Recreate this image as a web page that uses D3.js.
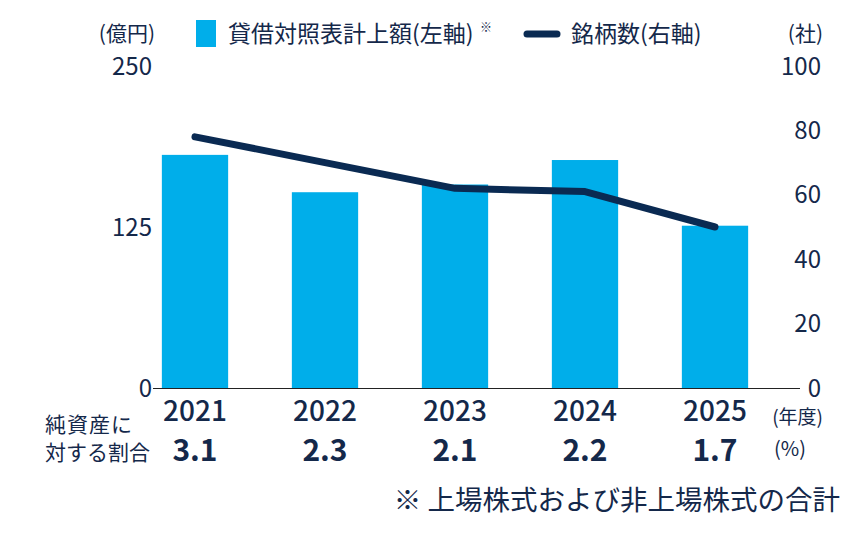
<!DOCTYPE html>
<html lang="ja">
<head>
<meta charset="utf-8">
<script src="https://cdn.jsdelivr.net/npm/d3@7"></script>
<style>
  html,body{margin:0;padding:0;background:#fff;}
  svg{display:block;font-family:"Noto Sans CJK JP","Noto Sans",sans-serif;}
  .ink{fill:#14284a;}
</style>
</head>
<body>
<div id="chart"></div>
<script>
/* Holdings chart: bars = balance sheet amount (left axis, 億円),
   line = number of issuers (right axis, 社). */
var years=["2021","2022","2023","2024","2025"];
var amounts=[181,152,158,177,126];     // 貸借対照表計上額（億円）
var counts=[78,70,62,61,50];           // 銘柄数（社）
var ratios=["3.1","2.3","2.1","2.2","1.7"]; // 純資産に対する割合（%）
var leftTicks=[0,125,250];
var rightTicks=[0,20,40,60,80,100];

var W=868,H=538;
var BAR="#00aeea", LINE="#0a2a52";
var svg=d3.select("#chart").append("svg").attr("width",W).attr("height",H);

var x=d3.scaleBand().domain(years).range([130,780]).paddingInner(0.49).paddingOuter(0.245);
var yL=d3.scaleLinear().domain([0,250]).range([388,66]);
var yR=d3.scaleLinear().domain([0,100]).range([388,66]);
function cx(d){return x(d)+x.bandwidth()/2;}

// bars
svg.append("g").selectAll("rect").data(years).enter().append("rect")
  .attr("x",function(d){return x(d);}).attr("width",x.bandwidth())
  .attr("y",function(d,i){return yL(amounts[i]);})
  .attr("height",function(d,i){return yL(0)-yL(amounts[i]);})
  .attr("fill",BAR);

// baseline
svg.append("line").attr("x1",153).attr("x2",800).attr("y1",yL(0)+0.5).attr("y2",yL(0)+0.5)
  .attr("stroke","#222").attr("stroke-width",1);

// line
var line=d3.line().x(function(d,i){return cx(years[i]);}).y(function(d){return yR(d);});
svg.append("path").datum(counts).attr("d",line).attr("fill","none")
  .attr("stroke",LINE).attr("stroke-width",7).attr("stroke-linecap","round").attr("stroke-linejoin","round");

// tick labels
svg.append("g").selectAll("text").data(leftTicks).enter().append("text").attr("class","ink")
  .attr("x",152).attr("y",function(d){return yL(d);}).attr("dy","0.36em")
  .attr("text-anchor","end").attr("font-size",24).text(function(d){return d;});
svg.append("g").selectAll("text").data(rightTicks).enter().append("text").attr("class","ink")
  .attr("x",821).attr("y",function(d){return yR(d);}).attr("dy","0.36em")
  .attr("text-anchor","end").attr("font-size",24).text(function(d){return d;});

// unit labels
svg.append("text").attr("class","ink").attr("x",155).attr("y",41).attr("text-anchor","end")
  .attr("font-size",21).text("(億円)");
svg.append("text").attr("class","ink").attr("x",823).attr("y",41).attr("text-anchor","end")
  .attr("font-size",21).text("(社)");

// legend
var lg=svg.append("g");
lg.append("rect").attr("x",196).attr("y",20).attr("width",20).attr("height",27).attr("fill",BAR);
lg.append("text").attr("class","ink").attr("x",228).attr("y",42).attr("font-size",23).text("貸借対照表計上額(左軸)");
lg.append("text").attr("class","ink").attr("x",480).attr("y",32).attr("font-size",12).text("※");
lg.append("line").attr("x1",527).attr("x2",557).attr("y1",34).attr("y2",34)
  .attr("stroke",LINE).attr("stroke-width",7).attr("stroke-linecap","round");
lg.append("text").attr("class","ink").attr("x",571).attr("y",42).attr("font-size",23).text("銘柄数(右軸)");

// year labels and ratios
svg.append("g").selectAll("text").data(years).enter().append("text").attr("class","ink")
  .attr("x",cx).attr("y",421)
  .attr("text-anchor","middle").attr("font-size",28).attr("font-weight",500).text(function(d){return d;});
svg.append("g").selectAll("text").data(ratios).enter().append("text").attr("class","ink")
  .attr("x",function(d,i){return cx(years[i]);}).attr("y",461)
  .attr("text-anchor","middle").attr("font-size",30).attr("font-weight",700).text(function(d){return d;});
svg.append("text").attr("class","ink").attr("x",823).attr("y",424).attr("text-anchor","end")
  .attr("font-size",19).text("(年度)");
svg.append("text").attr("class","ink").attr("x",806).attr("y",456).attr("text-anchor","end")
  .attr("font-size",20).text("(%)");
svg.append("text").attr("class","ink").attr("x",45).attr("y",432).attr("font-size",21)
  .attr("letter-spacing",1).text("純資産に");
svg.append("text").attr("class","ink").attr("x",45).attr("y",460).attr("font-size",21).text("対する割合");

// footnote
svg.append("text").attr("class","ink").attr("x",840).attr("y",510).attr("text-anchor","end")
  .attr("font-size",27.5).text("※ 上場株式および非上場株式の合計");
</script>
</body>
</html>
